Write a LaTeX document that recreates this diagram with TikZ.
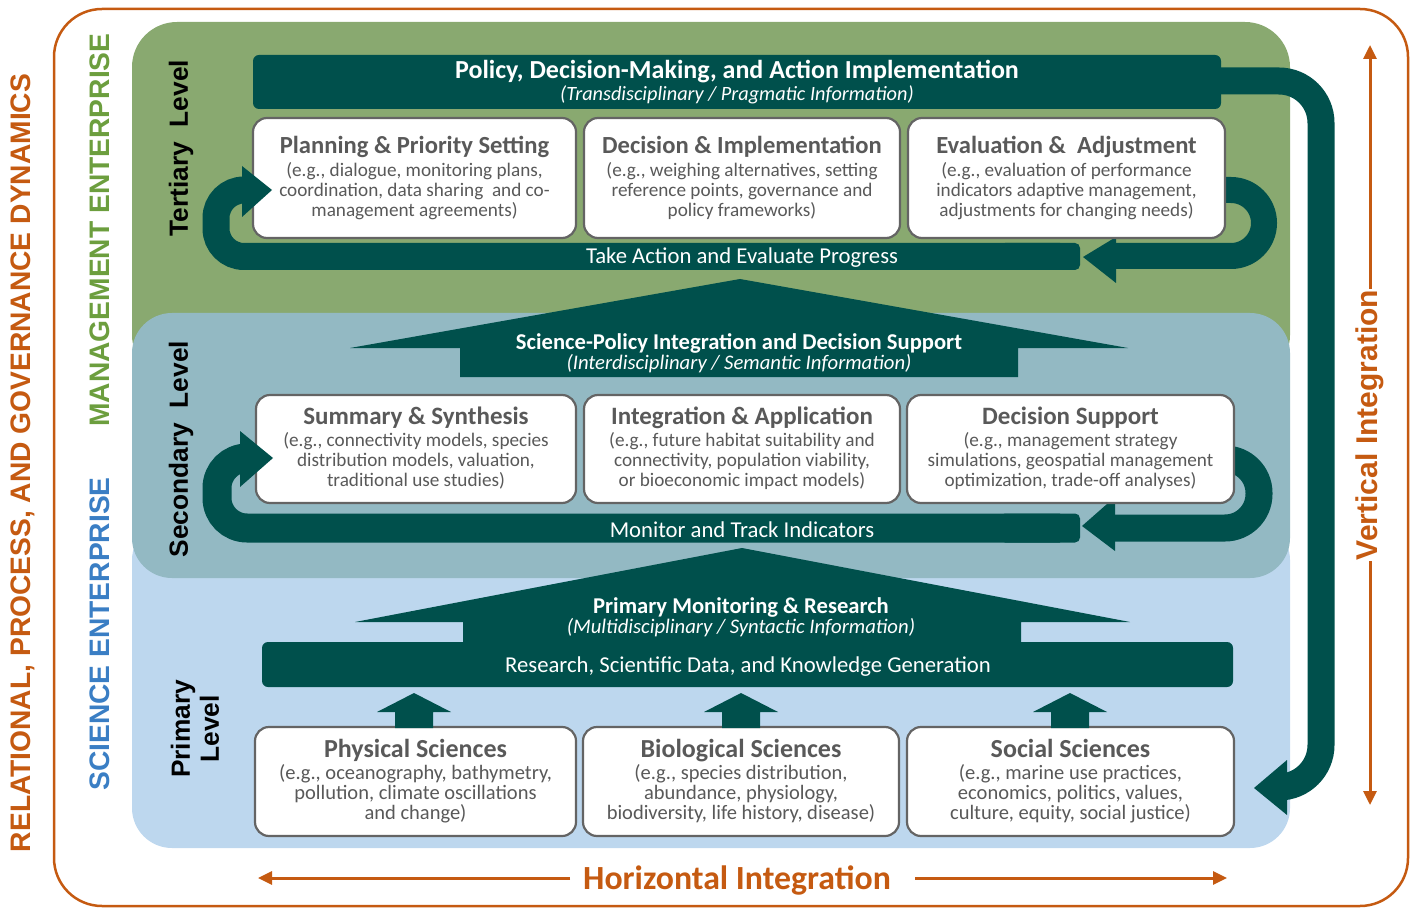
\documentclass[tikz,border=0pt]{standalone}
\usepackage{fontspec}
\setmainfont{Carlito}
\newfontfamily\arialf{Liberation Sans}
\usetikzlibrary{arrows.meta}
\definecolor{tealc}{RGB}{0,80,76}
\definecolor{greenp}{RGB}{137,169,112}
\definecolor{secp}{RGB}{147,185,195}
\definecolor{primp}{RGB}{189,215,238}
\definecolor{orangec}{RGB}{197,90,17}
\definecolor{mgmtc}{RGB}{108,158,62}
\definecolor{scic}{RGB}{58,126,196}
\definecolor{txtgray}{RGB}{89,89,89}
\definecolor{boxgray}{RGB}{100,100,100}
\begin{document}
\begin{tikzpicture}[x=1pt,y=-1pt,
  wbox/.style={draw=boxgray, line width=2.2pt, fill=white, rounded corners=14pt, inner sep=0pt},
  ttl/.style={text=txtgray, yshift=-5pt, inner sep=0.5pt, text height=0.68em, text depth=0.2em, font=\fontsize{24.6}{26}\selectfont\bfseries},
  desc/.style={text=txtgray, yshift=-1pt, inner sep=0.5pt, font=\fontsize{19.2}{19.8}\selectfont, align=center},
  wtitle/.style={text=white, yshift=-2pt, font=\fontsize{26}{28}\selectfont\bfseries},
  wsub/.style={text=white, yshift=-1.5pt, font=\fontsize{20.7}{22}\selectfont\itshape},
  wbar/.style={text=white, yshift=-2pt, font=\fontsize{22.7}{24}\selectfont},
  band/.style={draw=tealc, line width=27pt},
  lvl/.style={rotate=90, font=\arialf\fontsize{26.3}{29}\selectfont\bfseries, align=center},
  ent/.style={rotate=90, font=\arialf\fontsize{28.2}{32}\selectfont\bfseries},
  oarrow/.style={draw=orangec, line width=3pt, -{Triangle[length=14pt,width=13pt]}}
]
\useasboundingbox (0,0) rectangle (1416,909);
% outer frame
\draw[orangec, line width=2.5pt, rounded corners=48pt] (54,9) rectangle (1408,906);
% panels
\fill[greenp, rounded corners=45pt] (132,22) rectangle (1290,380);
\fill[primp, rounded corners=40pt] (132,520) rectangle (1290,848);
\fill[secp, rounded corners=40pt] (132,313) rectangle (1290,578);

% big vertical loop
\draw[band, rounded corners=42pt] (1200,81) -- (1321,81) -- (1321,787) -- (1285,787);
\fill[tealc] (1287,760) -- (1254,788) -- (1287,815) -- cycle;

% top bar
\fill[tealc, rounded corners=6pt] (253,55) rectangle (1221,109);
\node[wtitle] (pol) at (737,70) {Policy, Decision-Making, and Action Implementation};
\node[wsub, font=\fontsize{20.3}{22}\selectfont\itshape] (polsub) at (737,93) {(Transdisciplinary / Pragmatic Information)};

% right U loops (under boxes)
\draw[band, line width=26pt, rounded corners=33pt] (1210,190) -- (1264,190) -- (1264,256) -- (1110,256);
\fill[tealc] (1116,237) -- (1083,257) -- (1116,283) -- cycle;
\draw[band, line width=27pt, rounded corners=34pt] (1215,459) -- (1259,459) -- (1259,528) -- (1110,528);
\fill[tealc] (1115,497) -- (1082,526) -- (1115,551) -- cycle;

% tertiary boxes
\node[wbox, minimum width=323pt, minimum height=120pt] (t1) at (414.5,178) {};
\node[wbox, minimum width=316pt, minimum height=120pt] (t2) at (742,178) {};
\node[wbox, minimum width=317pt, minimum height=120pt] (t3) at (1066.5,178) {};
\node[ttl] (t1t) at (414.5,146) {Planning \& Priority Setting};
\node[desc] (t1d) at (414.5,190) {(e.g., dialogue, monitoring plans,\\coordination, data sharing\ \ and co-\\management agreements)};
\node[ttl] (t2t) at (742,146) {Decision \& Implementation};
\node[desc] (t2d) at (742,190) {(e.g., weighing alternatives, setting\\reference points, governance and\\policy frameworks)};
\node[ttl] (t3t) at (1066.5,146) {Evaluation \&\ \ Adjustment};
\node[desc] (t3d) at (1066.5,190) {(e.g., evaluation of performance\\indicators adaptive management,\\adjustments for changing needs)};

% secondary boxes
\node[wbox, minimum width=320pt, minimum height=108pt] (s1) at (416,449) {};
\node[wbox, minimum width=316pt, minimum height=108pt] (s2) at (742,449) {};
\node[wbox, minimum width=327pt, minimum height=108pt] (s3) at (1070.5,449) {};
\node[ttl, font=\fontsize{25}{26}\selectfont\bfseries] (s1t) at (416,417) {Summary \& Synthesis};
\node[desc] (s1d) at (416,460) {(e.g., connectivity models, species\\distribution models, valuation,\\traditional use studies)};
\node[ttl, font=\fontsize{25}{26}\selectfont\bfseries] (s2t) at (742,417) {Integration \& Application};
\node[desc] (s2d) at (742,460) {(e.g., future habitat suitability and\\connectivity, population viability,\\or bioeconomic impact models)};
\node[ttl, font=\fontsize{25}{26}\selectfont\bfseries] (s3t) at (1070.5,417) {Decision Support};
\node[desc] (s3d) at (1070.5,460) {(e.g., management strategy\\simulations, geospatial management\\optimization, trade-off analyses)};

% primary boxes
\node[wbox, minimum width=321pt, minimum height=109pt] (p1) at (415.5,781.5) {};
\node[wbox, minimum width=316pt, minimum height=109pt] (p2) at (741,781.5) {};
\node[wbox, minimum width=327pt, minimum height=109pt] (p3) at (1070.5,781.5) {};
\node[ttl, font=\fontsize{26}{27}\selectfont\bfseries] (p1t) at (415.5,750) {Physical Sciences};
\node[desc, font=\fontsize{20.5}{20}\selectfont] (p1d) at (415.5,793) {(e.g., oceanography, bathymetry,\\pollution, climate oscillations\\and change)};
\node[ttl, font=\fontsize{26}{27}\selectfont\bfseries] (p2t) at (741,750) {Biological Sciences};
\node[desc, font=\fontsize{20.5}{20}\selectfont] (p2d) at (741,793) {(e.g., species distribution,\\abundance, physiology,\\biodiversity, life history, disease)};
\node[ttl, font=\fontsize{26}{27}\selectfont\bfseries] (p3t) at (1070.5,750) {Social Sciences};
\node[desc, font=\fontsize{20.5}{20}\selectfont] (p3d) at (1070.5,793) {(e.g., marine use practices,\\economics, politics, values,\\culture, equity, social justice)};

% left loops and bars
\draw[band, rounded corners=28pt] (246,190) -- (216,190) -- (216,256.5) -- (1060,256.5);
\fill[tealc, rounded corners=5pt] (1000,243) rectangle (1080,270);
\fill[tealc] (242,166) -- (272,190) -- (242,217) -- cycle;
\node[wbar] (take) at (742,256) {Take Action and Evaluate Progress};

\draw[band, line width=29pt, rounded corners=30pt] (244,458) -- (217,458) -- (217,528) -- (1060,528);
\fill[tealc, rounded corners=5pt] (1000,513.5) rectangle (1080,542.5);
\fill[tealc] (240,431) -- (273,458) -- (240,487) -- cycle;
\node[wbar] (mon) at (742,528) {Monitor and Track Indicators};

% science-policy arrow
\fill[tealc] (740,279) -- (1128,348) -- (1018,348) -- (1018,377) -- (460,377) -- (460,348) -- (350,348) -- cycle;
\node[wtitle, font=\fontsize{22.6}{24}\selectfont\bfseries] (sp) at (739,341) {Science-Policy Integration and Decision Support};
\node[wsub] (spsub) at (739,362) {(Interdisciplinary / Semantic Information)};

% primary arrow and bar
\fill[tealc] (742,548) -- (1130,622) -- (1021,622) -- (1021,646) -- (463,646) -- (463,622) -- (355,622) -- cycle;
\fill[tealc, rounded corners=6pt] (262,642) rectangle (1233,687);
\node[wtitle, font=\fontsize{22.6}{24}\selectfont\bfseries] (pm) at (741,605) {Primary Monitoring \& Research};
\node[wsub] (pmsub) at (741,626) {(Multidisciplinary / Syntactic Information)};
\node[wbar] (rsd) at (748,665) {Research, Scientific Data, and Knowledge Generation};

% small arrows
\foreach \cx in {414,741,1070}{
  \fill[tealc] (\cx,693) -- (\cx+37,712) -- (\cx+19,712) -- (\cx+19,728) -- (\cx-19,728) -- (\cx-19,712) -- (\cx-37,712) -- cycle;
}

% level labels
\node[lvl] (tl) at (181,148) {Tertiary\ \ Level};
\node[lvl] (sl) at (181,449) {Secondary\ \ Level};
\node[lvl] (pl) at (195,729) {Primary\\Level};

% enterprise labels
\node[ent, text=orangec] (rel) at (23,463) {RELATIONAL, PROCESS, AND GOVERNANCE DYNAMICS};
\node[ent, text=mgmtc] (mgmt) at (100,230) {MANAGEMENT ENTERPRISE};
\node[ent, text=scic] (sci) at (100,634) {SCIENCE ENTERPRISE};

% integration arrows
\node[rotate=90, text=orangec, font=\arialf\fontsize{30}{32}\selectfont\bfseries, inner sep=1pt] (vi) at (1370,425) {Vertical Integration};
\coordinate (vtop) at (1370,45);
\coordinate (vbot) at (1370,805);
\draw[oarrow] (vi.east) -- (vtop);
\draw[oarrow] (vi.west) -- (vbot);
\node[text=orangec, yshift=-2pt, font=\fontsize{33.8}{36}\selectfont\bfseries] (hi) at (737,878) {Horizontal Integration};
\coordinate (hleft) at (258,878);
\coordinate (hright) at (1227,878);
\coordinate (hl0) at (570,878);
\coordinate (hr0) at (915,878);
\draw[oarrow] (hl0) -- (hleft);
\draw[oarrow] (hr0) -- (hright);
\end{tikzpicture}
\end{document}
